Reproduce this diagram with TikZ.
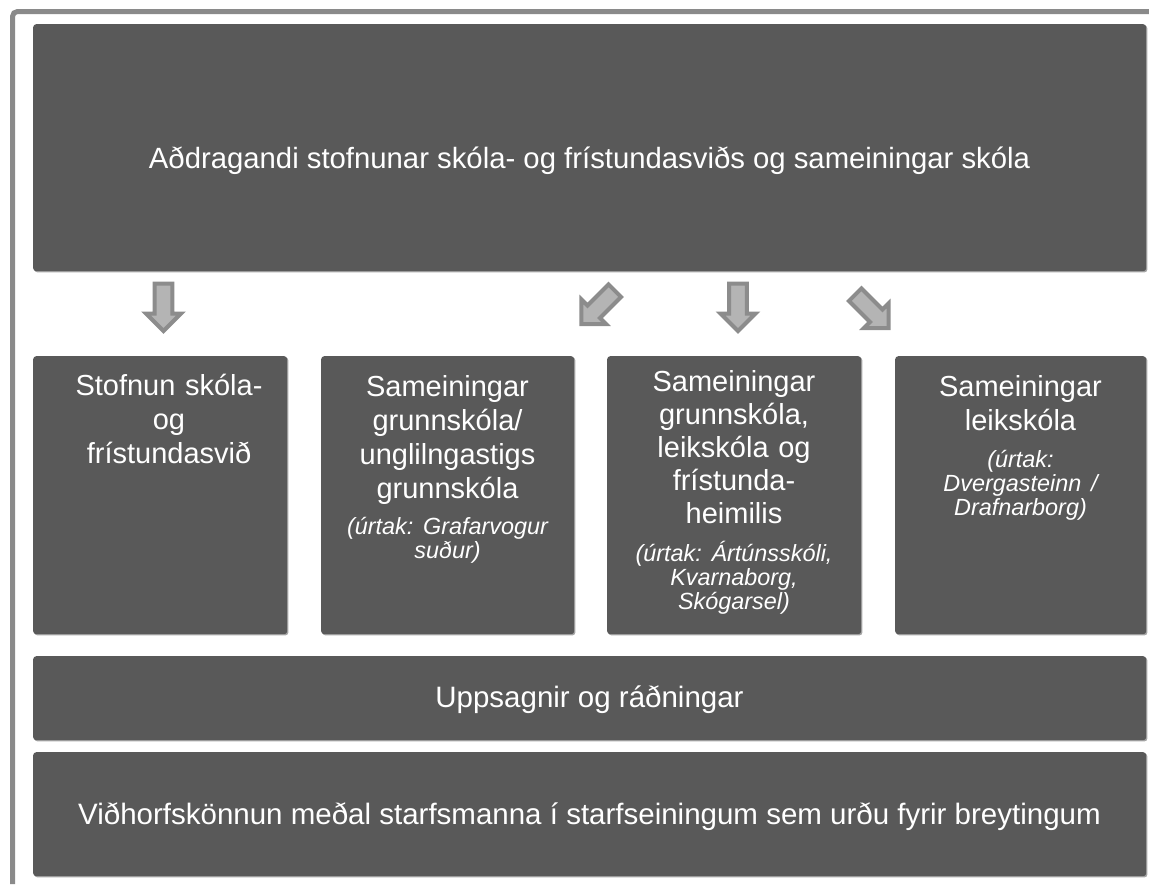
\documentclass[tikz,border=0pt]{standalone}
\usepackage{fontspec}
\setmainfont{Liberation Sans}
\usetikzlibrary{shadows}
\frenchspacing
\definecolor{boxfill}{HTML}{595959}
\definecolor{framegray}{HTML}{8A8A8A}
\definecolor{arrowfill}{HTML}{B4B4B4}
\definecolor{arrowline}{HTML}{8C8C8C}
\newcommand\mainsize{\fontsize{29}{34}\selectfont}
\newcommand\tightsize{\fontsize{29}{33}\selectfont}
\newcommand\barsize{\fontsize{29.5}{34}\selectfont}
\newcommand\topsize{\fontsize{29.3}{34}\selectfont}
\newcommand\italsize{\itshape\fontsize{23.4}{24}\selectfont}
\tikzset{
  box/.style={fill=boxfill, draw=none, rounded corners=3pt, inner sep=0pt, anchor=north west,
    drop shadow={shadow xshift=1.2pt, shadow yshift=-1.2pt, opacity=0.35, fill=black}},
  boxtext/.style={text=white, font=\mainsize, align=center, text width=250pt, inner sep=0pt, anchor=base},
  bigtext/.style={text=white, font=\barsize, inner sep=0pt},
  blockarrow/.style={fill=arrowfill, draw=arrowline, line width=4pt, line join=miter},
  downarrow/.pic={\draw[blockarrow] (-8.8,-23.8) -- (8.8,-23.8) -- (8.8,6) -- (17.5,6) -- (0,23.5) -- (-17.5,6) -- (-8.8,6) -- cycle;}
}
\begin{document}
\begin{tikzpicture}[x=1pt,y=-1pt]
\useasboundingbox (0,0) rectangle (1149,884);
% outer frame
\draw[framegray, line width=5pt, rounded corners=5pt] (12.5,884) -- (12.5,11.5) -- (1149,11.5);
% top box
\node[box, minimum width=1113pt, minimum height=247pt] (top) at (33,24) {};
\node[bigtext, font=\topsize] (toptext) at (589.5,161) {Aðdragandi stofnunar skóla- og frístundasviðs og sameiningar skóla};
% arrows
\pic at (163.5,307.5) {downarrow};
\pic[rotate=-45] at (598,307.5) {downarrow};
\pic at (738,307.5) {downarrow};
\pic[rotate=45] at (872,311.5) {downarrow};
% row boxes
\node[box, minimum width=254pt, minimum height=278pt] (b1) at (33,356) {};
\node[box, minimum width=253pt, minimum height=278pt] (b2) at (321,356) {};
\node[box, minimum width=254pt, minimum height=278pt] (b3) at (607,356) {};
\node[box, minimum width=251pt, minimum height=278pt] (b4) at (895,356) {};
\node[boxtext] (t1) at (169,395.5) {Stofnun skóla-\\og\\frístundasvið\par};
\node[boxtext] (t2) at (447.5,396.5) {Sameiningar\\grunnskóla/\\unglilngastigs\\grunnskóla\\[12pt]{\italsize (úrtak: Grafarvogur\\suður)\par}};
\node[boxtext, font=\tightsize] (t3) at (734,391) {Sameiningar\\grunnskóla,\\leikskóla og\\frístunda-\\heimilis\\[14pt]{\italsize (úrtak: Ártúnsskóli,\\Kvarnaborg,\\Skógarsel)\par}};
\node[boxtext] (t4) at (1020.5,396.5) {Sameiningar\\leikskóla\\[13pt]{\italsize (úrtak:\\Dvergasteinn /\\Drafnarborg)\par}};
% bottom bars
\node[box, minimum width=1113pt, minimum height=84pt] (upp) at (33,656) {};
\node[bigtext] (upptext) at (589.5,700) {Uppsagnir og ráðningar};
\node[box, minimum width=1113pt, minimum height=124pt] (vid) at (33,752) {};
\node[bigtext] (vidtext) at (589.5,817) {Viðhorfskönnun meðal starfsmanna í starfseiningum sem urðu fyrir breytingum};
\end{tikzpicture}
\end{document}
